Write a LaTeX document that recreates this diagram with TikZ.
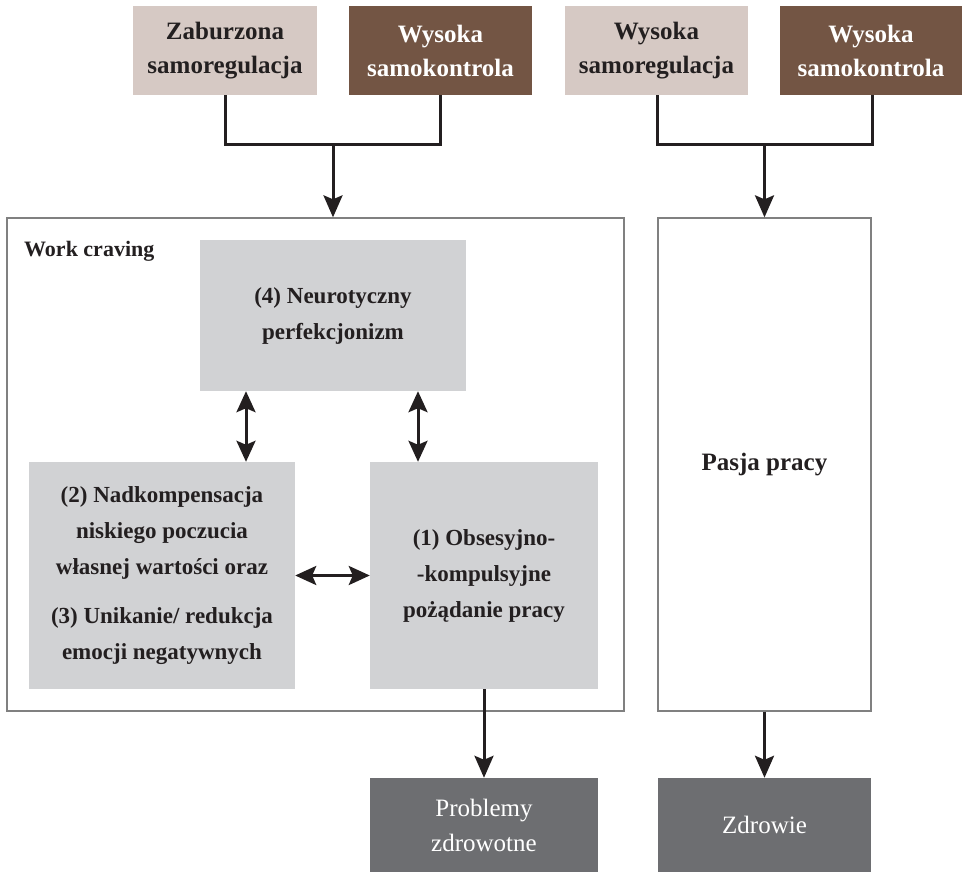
\documentclass[tikz,border=0pt]{standalone}
\usepackage{fontspec}
\setmainfont{Liberation Serif}
\usetikzlibrary{arrows.meta}

\definecolor{beige}{HTML}{D6C9C4}
\definecolor{brown}{HTML}{735544}
\definecolor{lightgrey}{HTML}{D1D2D4}
\definecolor{darkgrey}{HTML}{6D6E71}
\definecolor{frame}{HTML}{808080}
\definecolor{ink}{HTML}{231F20}

\begin{document}
\begin{tikzpicture}[x=1pt,y=-1pt,
  txt/.style={font=\fontsize{23}{36}\selectfont\bfseries, align=center, inner sep=0pt},
  labeltxt/.style={font=\fontsize{22}{36}\selectfont\bfseries, inner sep=0pt},
  bigtxt/.style={font=\fontsize{25}{34}\selectfont\bfseries, align=center, inner sep=0pt},
  lightbox/.style={bigtxt, fill=beige, text=ink, minimum height=89pt},
  brownbox/.style={bigtxt, fill=brown, text=white, minimum height=89pt},
  greybox/.style={txt, fill=lightgrey, text=ink},
  outbox/.style={font=\fontsize{25}{35}\selectfont, align=center, inner sep=0pt, fill=darkgrey, text=white},
  panel/.style={draw=frame, line width=1.3pt, fill=white, text=ink},
  link/.style={draw=ink, line width=3pt},
  arr/.style={link, -{Stealth[length=22pt,width=19pt,inset=4pt]}},
  dbl/.style={link, {Stealth[length=21pt,width=19pt,inset=4pt]}-{Stealth[length=21pt,width=19pt,inset=4pt]}},
]
\useasboundingbox (0,0) rectangle (962,872);

% input factors
\node[lightbox, minimum width=184pt] (zab) at (225,50.5) {Zaburzona\\samoregulacja};
\node[brownbox, minimum width=183pt] (wsk1) at (440.5,50.5) {Wysoka\\samokontrola};
\node[lightbox, minimum width=183pt] (wsr) at (656.5,50.5) {Wysoka\\samoregulacja};
\node[brownbox, minimum width=182pt] (wsk2) at (871,50.5) {Wysoka\\samokontrola};

% panels
\node[panel, minimum width=617pt, minimum height=493pt] (wc) at (315.5,464.5) {};
\node[labeltxt, anchor=west, text=ink] (wclabel) at (24,251) {Work craving};
\node[panel, bigtxt, minimum width=213pt, minimum height=493pt] (pasja) at (764.5,464.5) {Pasja pracy};

% work craving components
\node[greybox, minimum width=266pt, minimum height=151pt] (b4) at (333,315.5)
  {(4) Neurotyczny\\perfekcjonizm};
\node[greybox, minimum width=266pt, minimum height=227pt] (b2) at (162,575.5)
  {(2) Nadkompensacja\\niskiego poczucia\\własnej wartości oraz\\[13pt](3) Unikanie/ redukcja\\emocji negatywnych};
\node[greybox, minimum width=228pt, minimum height=227pt] (b1) at (484,575.5)
  {(1) Obsesyjno-\\-kompulsyjne\\pożądanie pracy};

% outcomes
\node[outbox, minimum width=228pt, minimum height=94pt] (prob) at (484,825) {Problemy\\zdrowotne};
\node[outbox, minimum width=213pt, minimum height=94pt] (zdr) at (764.5,825) {Zdrowie};

% joins above the panels
\coordinate (j1) at (333,145);
\coordinate (j2) at (764.5,145);
\draw[link] (zab.south) |- (j1) -| (wsk1.south);
\draw[link] ([xshift=0.5pt]wsr.south) |- (j2) -| ([xshift=1pt]wsk2.south);
\draw[arr] (j1) -- (j1 |- wc.north);
\draw[arr] (j2) -- (pasja.north);

% relations inside work craving
\draw[dbl] ([xshift=84pt]b2.north |- b4.south) -- ([xshift=84pt]b2.north);
\draw[dbl] ([xshift=-66pt]b1.north |- b4.south) -- ([xshift=-66pt]b1.north);
\draw[dbl] (b2.east) -- (b1.west);

% consequences
\draw[arr] (b1.south) -- (prob.north);
\draw[arr] (pasja.south) -- (zdr.north);
\end{tikzpicture}
\end{document}
